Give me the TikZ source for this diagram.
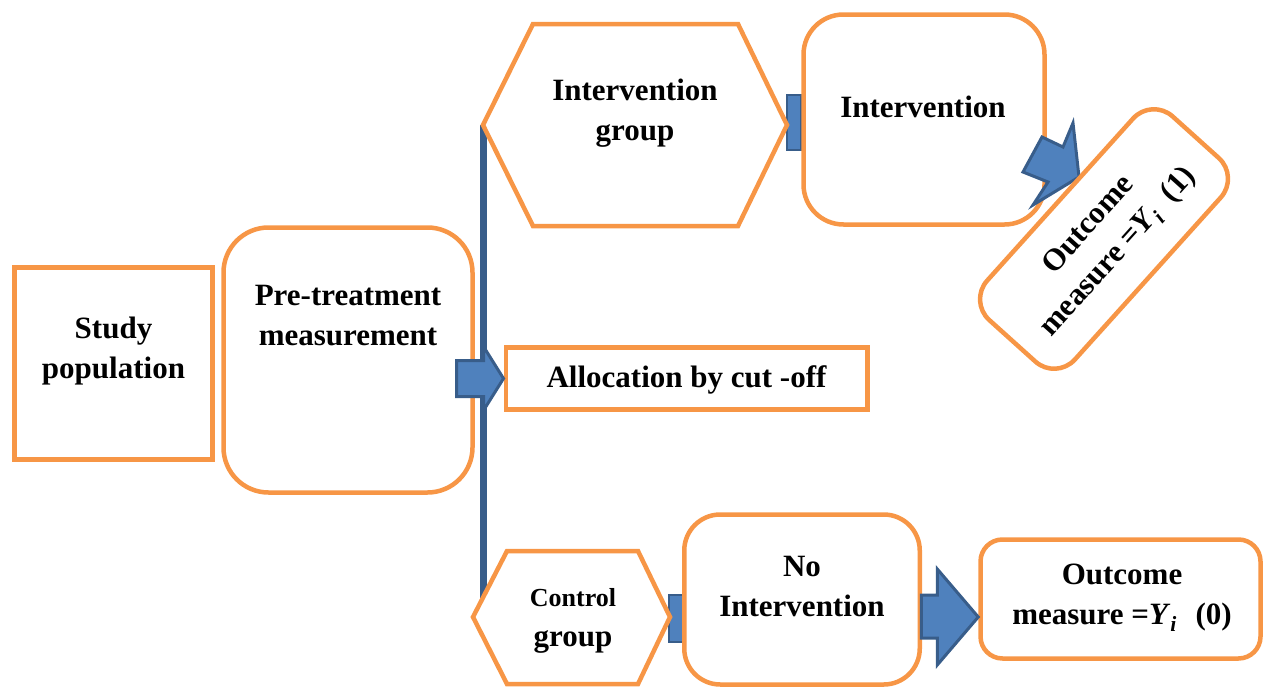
\documentclass[tikz,border=0pt]{standalone}
\usepackage{fontspec}
\setmainfont{Liberation Serif}
\usetikzlibrary{calc}
\definecolor{orng}{HTML}{F79646}
\definecolor{bfill}{HTML}{4F81BD}
\definecolor{bline}{HTML}{385D8A}
\newcommand\Yi{\textit{Y}\textsubscript{\textit{i}}}
\begin{document}
\begin{tikzpicture}[x=1pt,y=-1pt,
  obox/.style={draw=orng,line width=4.5pt,fill=white,inner sep=0pt},
  txt/.style={font=\bfseries\fontsize{31}{40}\selectfont,align=center,inner sep=0pt},
  barrow/.style={fill=bfill,draw=bline,line width=3pt,line join=miter},
  vline/.style={draw=bline,line width=7pt}]
\useasboundingbox (0,0) rectangle (1263,688);

% hexagon vertices used by connectors
\coordinate (igW) at (483,125);
\coordinate (igE) at (787,125);
\coordinate (cgW) at (473,617);
\coordinate (cgE) at (670,617);

% vertical elbow connector
\draw[vline] (igW) |- (cgW);

% small connectors (mostly hidden)
\draw[barrow,line width=2.5pt] ($(igE)+(0,-30)$) rectangle ($(igE)+(14,25)$);
\draw[barrow,line width=2.5pt] ($(cgE)+(-1,-22)$) rectangle ($(cgE)+(13,25)$);

% Study population
\node[obox,minimum width=198pt,minimum height=192pt] (sp) at (113.5,363.5) {};
\node[txt] (spt) at (113.5,351) {Study\\population};

% Pre-treatment
\node[obox,rounded corners=45pt,minimum width=249pt,minimum height=265pt] (pre) at (348,360) {};
\node[txt] (pret) at (348,316) {Pre-treatment\\measurement};

% Allocation
\node[obox,minimum width=361.5pt,minimum height=62pt] (alloc) at (686.5,378.5) {};
\node[txt] (alloct) at (686.5,380) {Allocation by cut -off};
\draw[barrow] (alloc.west) -- ++(-20,-32) -- ++(0,14) -- ++(-27,0) -- ++(0,36) -- ++(27,0) -- ++(0,14) -- cycle;

% Intervention group hexagon
\draw[obox] (igW) -- (533,24) -- (738,24) -- (igE) -- (738,226) -- (533,226) -- cycle;
\node[txt] (igt) at (635,113) {Intervention\\group};

% Intervention
\node[obox,rounded corners=40pt,minimum width=241pt,minimum height=210pt] (int) at (924,119.5) {};
\node[txt] (intt) at (923,107) {Intervention};

% arrow Intervention -> Outcome (1)
\coordinate (oc1tip) at (1079,177);
\draw[barrow] (oc1tip) -- (1033,205) -- (1048,182) -- (1023,172) -- (1042,137) -- (1063,147) -- (1073,123) -- cycle;

% Outcome (1), rotated
\node[obox,txt,rounded corners=28pt,minimum width=274pt,minimum height=118pt,rotate=48] (oc1) at (1104,239) {Outcome\\measure =\Yi\hspace{0.5em}(1)};

% Control group hexagon
\draw[obox] (cgW) -- (507,551) -- (638,551) -- (cgE) -- (638,684) -- (507,684) -- cycle;
\node[txt] (cgt) at (573,621) {{\fontsize{26}{34}\selectfont Control}\\group};

% No Intervention
\node[obox,rounded corners=36pt,minimum width=235.5pt,minimum height=170pt] (noint) at (802,599.5) {};
\node[txt] (nointt) at (802,586) {No\\Intervention};

% Outcome (0)
\node[obox,rounded corners=22pt,minimum width=280pt,minimum height=119pt] (oc0) at (1120.5,599) {};
\node[txt] (oc0t) at (1122,598) {Outcome\\measure =\Yi\hspace{0.6em}(0)};

% arrow No Intervention -> Outcome (0)
\draw[barrow] ($(oc0.west)+(0,18)$) -- ++(-41,-48) -- ++(0,26) -- ++(-16,0) -- ++(0,43) -- ++(16,0) -- ++(0,27) -- cycle;
\end{tikzpicture}
\end{document}
